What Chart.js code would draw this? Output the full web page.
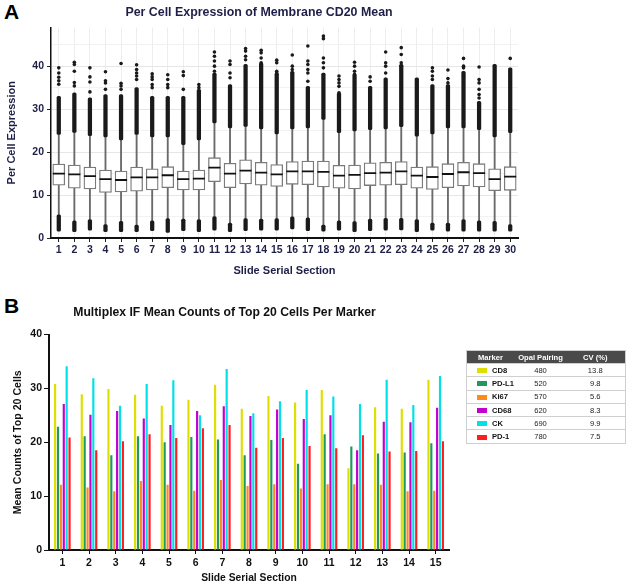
<!DOCTYPE html>
<html>
<head>
<meta charset="utf-8">
<script src="https://cdn.jsdelivr.net/npm/chart.js"></script>
<style>
  body { margin: 0; background: #fff; overflow: hidden; font-family: 'Liberation Sans', Arial, sans-serif; }
  .panel-letter { position: absolute; font-weight: bold; font-size: 21px; color: #000; }
  #chartA { position: absolute; left: 0; top: 0; }
  #chartB { position: absolute; left: 0; top: 288px; }
  #markerTable { position: absolute; left: 466px; top: 350px; width: 159px; border-collapse: collapse;
    table-layout: fixed; font-size: 7.6px; color: #222; border: 1px solid #cfcfcf; }
  #markerTable th { background: #4a4a4a; color: #fff; font-weight: bold; height: 12px; padding: 0; text-align: center; }
  #markerTable th.name { text-align: left; padding-left: 11px; }
  #markerTable td { height: 12.3px; padding: 0; border-top: 1px solid #cfcfcf; text-align: center; }
  #markerTable td.name { text-align: left; padding-left: 10px; font-weight: bold; color: #111; white-space: nowrap; }
  .swatch { display: inline-block; width: 10px; height: 5px; margin-right: 5px; vertical-align: middle; }
</style>
</head>
<body>
<div class="panel-letter" style="left:4px; top:0px;">A</div>
<div class="panel-letter" style="left:4px; top:294px;">B</div>
<canvas id="chartA" width="626" height="285"></canvas>
<canvas id="chartB" width="626" height="305"></canvas>
<table id="markerTable">
  <colgroup><col style="width:49px"><col style="width:50px"><col style="width:60px"></colgroup>
  <thead><tr><th class="name">Marker</th><th>Opal Pairing</th><th>CV (%)</th></tr></thead>
  <tbody></tbody>
</table>
<script>
// ---- panel A: per cell CD20 expression (box plots) ----
const slides = ['1','2','3','4','5','6','7','8','9','10','11','12','13','14','15',
  '16','17','18','19','20','21','22','23','24','25','26','27','28','29','30'];
const boxQ1 = [12.3, 11.6, 11.4, 10.6, 10.7, 10.9, 11.2, 11.7, 11.2, 11.2, 13.1, 11.7, 12.6, 12.3, 12.0,
  12.5, 12.4, 11.9, 11.6, 11.4, 12.2, 12.3, 12.4, 11.6, 11.3, 11.7, 12.1, 11.9, 11.0, 11.1];
const boxMedian = [15.0, 14.8, 14.4, 13.7, 13.5, 14.1, 14.1, 14.6, 13.7, 13.8, 16.4, 15.0, 15.7, 15.2, 14.8,
  15.5, 15.5, 15.4, 14.5, 14.7, 15.1, 15.2, 15.5, 14.5, 14.2, 14.9, 15.3, 15.1, 13.7, 14.3];
const boxQ3 = [17.2, 17.0, 16.5, 15.8, 15.6, 16.5, 16.1, 16.6, 15.6, 15.8, 18.7, 17.4, 18.2, 17.6, 17.1,
  17.8, 17.9, 17.9, 16.9, 17.0, 17.5, 17.6, 17.8, 16.5, 16.6, 17.3, 17.6, 17.3, 16.1, 16.6];
const whiskerHigh = [24.1, 24.6, 23.8, 23.5, 22.8, 24.1, 23.5, 23.5, 21.7, 22.8, 26.8, 25.6, 26.0, 25.4, 24.2,
  25.4, 25.6, 27.6, 24.5, 24.9, 25.2, 25.4, 25.9, 23.7, 24.2, 25.6, 25.6, 25.2, 23.5, 24.5];
const whiskerLow = [5.4, 4.0, 4.3, 3.1, 3.9, 3.0, 4.0, 4.5, 4.4, 4.3, 5.0, 3.5, 4.5, 4.4, 4.5,
  4.9, 4.7, 3.0, 4.0, 3.8, 4.4, 4.6, 4.6, 4.3, 3.5, 3.5, 4.3, 4.0, 3.9, 3.1];
// dense runs of outliers above / below the whiskers
const denseHighTop = [33.0, 33.8, 32.6, 33.4, 33.4, 35.0, 33.0, 33.0, 33.0, 34.6, 38.4, 35.7, 40.4, 40.8, 38.4,
  38.8, 35.3, 38.4, 33.8, 38.1, 35.3, 37.3, 40.4, 37.3, 35.7, 35.7, 38.8, 31.8, 40.4, 39.6];
const denseLowMin = [1.6, 1.5, 1.8, 1.5, 1.5, 1.5, 1.7, 1.3, 1.7, 1.5, 1.8, 1.5, 1.7, 1.8, 1.8,
  2.1, 1.7, 1.6, 1.8, 1.5, 1.7, 1.8, 1.9, 1.5, 1.8, 1.6, 1.6, 1.6, 1.6, 1.6];
// single outliers above the dense run
const sparseOutliers = [
  [35.8, 36.6, 37.4, 38.4, 39.6], [35.4, 36.2, 38.8, 40.4, 40.9], [34.0, 36.3, 37.5, 39.6],
  [34.6, 36.1, 36.6, 38.7], [34.6, 35.4, 36.0, 40.6], [36.9, 37.7, 38.4, 39.2, 40.3],
  [35.0, 35.7, 36.9, 37.5, 38.2], [35.0, 35.7, 36.9, 38.0], [34.6, 37.8, 38.7], [35.0, 35.7],
  [38.8, 40.0, 41.2, 42.3, 43.3], [37.3, 38.4, 40.4, 41.2], [41.5, 42.3, 43.5, 44.1],
  [40.8, 41.9, 43.1, 43.7], [38.4, 38.8, 40.8, 41.4], [39.2, 40.0, 42.6],
  [36.5, 38.4, 39.2, 40.4, 41.2, 44.7], [39.6, 40.8, 41.9, 46.4, 47.0], [33.8, 35.3, 36.1, 36.9, 37.7],
  [38.1, 38.8, 40.0, 40.9], [36.5, 37.5], [38.4, 40.0, 40.8, 43.3], [40.0, 40.8, 42.7, 44.3],
  [], [36.9, 37.7, 38.8, 39.6], [36.1, 37.1, 39.1], [37.7, 39.6, 40.0, 41.8],
  [32.6, 33.4, 34.6, 36.1, 36.9, 39.8], [], [41.8]
];

const navy = '#1d1f47';

let outlierPoints = [];
slides.forEach((s, i) => {
  sparseOutliers[i].forEach(v => outlierPoints.push({ x: s, y: v }));
});

const boxData = {
  labels: slides,
  datasets: [
    {
      type: 'line', label: 'median', data: boxMedian, showLine: false,
      pointStyle: 'line', pointRadius: 6, pointBorderWidth: 1.8, pointBorderColor: '#111', order: 1
    },
    {
      type: 'line', label: 'outliers', data: outlierPoints, showLine: false,
      pointStyle: 'circle', pointRadius: 1.8, pointBackgroundColor: '#1a1a1a', pointBorderWidth: 0, order: 1
    },
    {
      type: 'bar', label: 'box', data: boxQ1.map((q, i) => [q, boxQ3[i]]), grouped: false,
      barThickness: 12, backgroundColor: '#ffffff', borderColor: '#7a7a7a', borderWidth: 1.3,
      borderSkipped: false, order: 2
    },
    {
      type: 'bar', label: 'dense high', data: whiskerHigh.map((w, i) => [w, denseHighTop[i]]), grouped: false,
      barThickness: 3.6, backgroundColor: '#1a1a1a', borderRadius: 1.5, borderSkipped: false, order: 3
    },
    {
      type: 'bar', label: 'dense low', data: whiskerLow.map((w, i) => [denseLowMin[i], w]), grouped: false,
      barThickness: 3.6, backgroundColor: '#1a1a1a', borderRadius: 1.5, borderSkipped: false, order: 3
    },
    {
      type: 'bar', label: 'whisker', data: whiskerLow.map((w, i) => [w, whiskerHigh[i]]), grouped: false,
      barThickness: 1.2, backgroundColor: '#6a6a6a', order: 4
    }
  ]
};

new Chart(document.getElementById('chartA'), {
  data: boxData,
  options: {
    responsive: false,
    animation: false,
    layout: { padding: { right: 108 } },
    plugins: {
      legend: { display: false },
      tooltip: { enabled: false },
      title: {
        display: true,
        text: 'Per Cell Expression of Membrane CD20 Mean',
        color: navy,
        font: { family: "'Liberation Sans', Arial", size: 12.4, weight: 'bold' },
        padding: { top: 4.8, bottom: 7.8 }
      }
    },
    scales: {
      x: {
        offset: true,
        grid: { offset: false, color: '#ededed', tickColor: '#222', tickLength: 4 },
        border: { color: '#111', width: 2 },
        ticks: { color: navy, font: { family: "'Liberation Sans', Arial", size: 10.5, weight: 'bold' }, padding: 2, maxRotation: 0, autoSkip: false },
        title: {
          display: true, text: 'Slide Serial Section', color: navy,
          font: { family: "'Liberation Sans', Arial", size: 11, weight: 'bold' },
          padding: { top: 0, bottom: 7.4 }
        },
        afterFit: scale => { scale.height = 47; }
      },
      y: {
        min: 0, max: 49,
        grid: {
          color: ctx => (ctx.tick && ctx.tick.value % 10 === 0) ? '#e6e6e6' : '#f2f2f2',
          tickColor: ctx => (ctx.tick && ctx.tick.value % 10 === 0) ? '#222' : 'rgba(0,0,0,0)',
          tickLength: 4
        },
        border: { color: '#111', width: 1.5 },
        ticks: {
          stepSize: 5, includeBounds: false, padding: 3, color: navy,
          font: { family: "'Liberation Sans', Arial", size: 10.5, weight: 'bold' },
          callback: v => (v % 10 === 0 ? v : '')
        },
        title: {
          display: true, text: 'Per Cell Expression', color: navy,
          font: { family: "'Liberation Sans', Arial", size: 11, weight: 'bold' },
          padding: { top: 5, bottom: 0 }
        },
        afterFit: scale => { scale.width = 51; }
      }
    }
  }
});

// ---- panel B: multiplex IF counts ----
const sections = ['1','2','3','4','5','6','7','8','9','10','11','12','13','14','15'];
const markers = ['CD8', 'PD-L1', 'Ki67', 'CD68', 'CK', 'PD-1'];
const markerColors = ['#dede00', '#1f9a5e', '#ff8a1c', '#c200d2', '#00e0e6', '#ff1c1c'];
const opalPairing = [480, 520, 570, 620, 690, 780];
const cvPercent = ['13.8', '9.8', '5.6', '8.3', '9.9', '7.5'];

const cd8Counts  = [30.8, 28.9, 29.9, 28.8, 26.8, 27.9, 30.7, 26.2, 28.6, 27.4, 29.7, 15.2, 26.5, 26.2, 31.6];
const pdl1Counts = [22.9, 21.1, 17.6, 21.1, 20.0, 21.0, 20.5, 17.6, 20.4, 16.0, 21.5, 19.2, 17.9, 18.1, 19.8];
const ki67Counts = [12.1, 11.6, 10.9, 12.8, 12.1, 11.0, 13.0, 11.9, 12.2, 11.4, 12.2, 12.2, 12.1, 10.9, 11.0];
const cd68Counts = [27.1, 25.1, 25.8, 24.4, 23.2, 25.8, 26.7, 24.9, 26.1, 24.3, 25.0, 18.5, 23.8, 23.7, 26.4];
const ckCounts   = [34.1, 31.9, 26.8, 30.8, 31.5, 25.0, 33.6, 25.4, 27.6, 29.7, 28.5, 27.1, 31.6, 26.9, 32.3];
const pd1Counts  = [20.9, 18.5, 20.2, 21.5, 20.8, 22.6, 23.2, 19.0, 20.8, 19.3, 18.9, 21.3, 18.3, 18.4, 20.2];
const markerCounts = [cd8Counts, pdl1Counts, ki67Counts, cd68Counts, ckCounts, pd1Counts];

new Chart(document.getElementById('chartB'), {
  type: 'bar',
  data: {
    labels: sections,
    datasets: markers.map((m, i) => ({
      label: m,
      data: markerCounts[i],
      backgroundColor: markerColors[i],
      categoryPercentage: 0.65,
      barPercentage: 0.75
    }))
  },
  options: {
    responsive: false,
    animation: false,
    layout: { padding: { right: 177 } },
    plugins: {
      legend: { display: false },
      tooltip: { enabled: false },
      title: {
        display: true,
        text: 'Multiplex IF Mean Counts of Top 20 Cells Per Marker',
        color: '#111',
        font: { family: "'Liberation Sans', Arial", size: 12.2, weight: 'bold' },
        padding: { top: 17.8, bottom: 14.1 }
      }
    },
    scales: {
      x: {
        grid: { offset: false, drawOnChartArea: false, tickColor: '#111', tickLength: 4 },
        border: { color: '#111', width: 2 },
        ticks: { color: '#111', font: { family: "'Liberation Sans', Arial", size: 10.5, weight: 'bold' }, padding: 3 },
        title: {
          display: true, text: 'Slide Serial Section', color: '#111',
          font: { family: "'Liberation Sans', Arial", size: 10.3, weight: 'bold' },
          padding: { top: 0, bottom: 8.2 }
        },
        afterFit: scale => { scale.height = 43; }
      },
      y: {
        min: 0, max: 40,
        grid: { drawOnChartArea: false, tickColor: '#111', tickLength: 5 },
        border: { color: '#111', width: 2 },
        ticks: { stepSize: 10, padding: 2, color: '#111', font: { family: "'Liberation Sans', Arial", size: 10.5, weight: 'bold' } },
        title: {
          display: true, text: 'Mean Counts of Top 20 Cells', color: '#111',
          font: { family: "'Liberation Sans', Arial", size: 10.6, weight: 'bold' },
          padding: { top: 12, bottom: 0 }
        },
        afterFit: scale => { scale.width = 49; }
      }
    }
  }
});

// marker table next to panel B
const tbody = document.querySelector('#markerTable tbody');
markers.forEach((m, i) => {
  const tr = document.createElement('tr');
  tr.innerHTML = '<td class="name"><span class="swatch" style="background:' + markerColors[i] + '"></span>' + m + '</td>' +
    '<td>' + opalPairing[i] + '</td><td>' + cvPercent[i] + '</td>';
  tbody.appendChild(tr);
});
</script>
</body>
</html>
